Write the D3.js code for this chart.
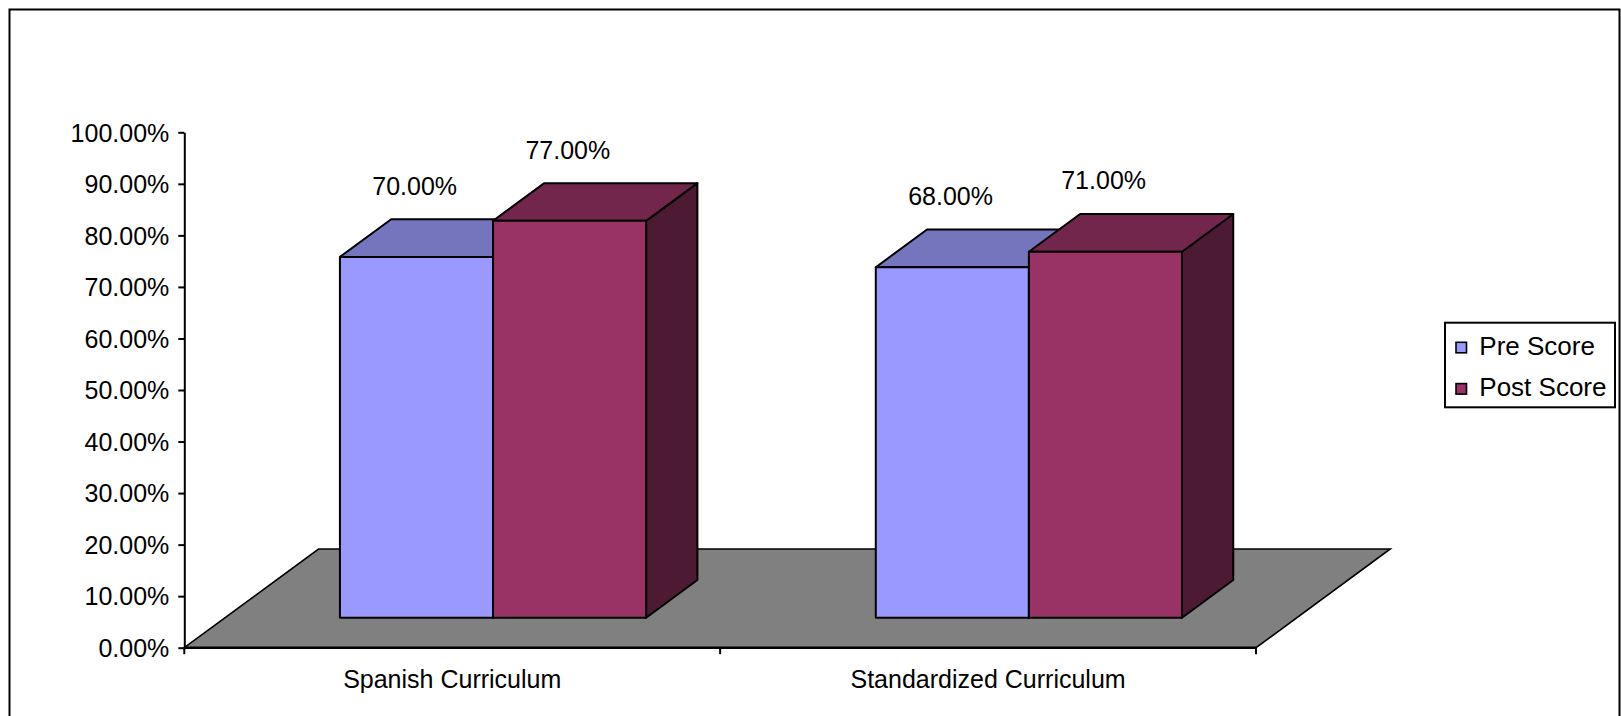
<!DOCTYPE html>
<html>
<head>
<meta charset="utf-8">
<script src="https://cdn.jsdelivr.net/npm/d3@7"></script>
<style>
  html, body { margin: 0; padding: 0; background: #ffffff; }
  svg { display: block; }
  text { font-family: "Liberation Sans", Arial, sans-serif; fill: #000; }
</style>
</head>
<body>
<svg id="chart" width="1621" height="716"></svg>
<script>
// Chart data
const categories = ["Spanish Curriculum", "Standardized Curriculum"];
const seriesNames = ["Pre Score", "Post Score"];
const preScore = [0.70, 0.68];
const postScore = [0.77, 0.71];
const yTickValues = [0, 0.1, 0.2, 0.3, 0.4, 0.5, 0.6, 0.7, 0.8, 0.9, 1.0];

// Colours per series: front, top, side faces
const seriesColors = {
  "Pre Score":  { front: "#9999FF", top: "#7575BE", side: "#4D4D80" },
  "Post Score": { front: "#993366", top: "#73264C", side: "#4C1A33" }
};

const svg = d3.select("#chart");
const W = 1621, H = 716;

// Plot frame (front plane)
const plotLeft = 184.3, plotRight = 1256, plotTop = 132.3, plotBottom = 647.7;

// Oblique depth projection: depth measured in px upward, shifted right by ratio
const depthRatio = 1.36;
const floorDepth = 98.7;
const barFront = 30, barBack = 67.7;
const proj = (x, y, z) => [x + z * depthRatio, y - z];

const y = d3.scaleLinear().domain([0, 1]).range([plotBottom, plotTop]);
const x0 = d3.scaleBand().domain(categories).range([plotLeft, plotRight]).paddingInner(0).paddingOuter(0);
const x1 = d3.scaleBand().domain(seriesNames).range([0, x0.bandwidth()]).paddingInner(0).paddingOuter(0.75);

// Outer chart border
svg.append("path")
  .attr("d", `M9.5,${H + 5} L9.5,9.5 L1619.5,9.5 L1619.5,${H + 5}`)
  .attr("fill", "none").attr("stroke", "#000").attr("stroke-width", 2);

// Floor
const fl = [
  proj(plotLeft, plotBottom, 0),
  proj(plotLeft, plotBottom, floorDepth),
  proj(plotRight, plotBottom, floorDepth),
  proj(plotRight, plotBottom, 0)
];
svg.append("polygon")
  .attr("points", fl.map(p => p.join(",")).join(" "))
  .attr("fill", "#808080").attr("stroke", "#000").attr("stroke-width", 1.6)
  .attr("stroke-linejoin", "miter");

// Build bar records
const bars = [];
categories.forEach((c, i) => {
  bars.push({ cat: c, series: "Pre Score", value: preScore[i] });
  bars.push({ cat: c, series: "Post Score", value: postScore[i] });
});

const poly = pts => pts.map(p => p.join(",")).join(" ");

const barG = svg.append("g");
bars.forEach(b => {
  const xl = x0(b.cat) + x1(b.series);
  const xr = xl + x1.bandwidth();
  const yt = y(b.value), yb = y(0);
  const col = seriesColors[b.series];
  const g = barG.append("g");
  // side face
  g.append("polygon")
    .attr("points", poly([proj(xr, yb, barFront), proj(xr, yb, barBack), proj(xr, yt, barBack), proj(xr, yt, barFront)]))
    .attr("fill", col.side).attr("stroke", "#000").attr("stroke-width", 2).attr("stroke-linejoin", "round");
  // top face
  g.append("polygon")
    .attr("points", poly([proj(xl, yt, barFront), proj(xl, yt, barBack), proj(xr, yt, barBack), proj(xr, yt, barFront)]))
    .attr("fill", col.top).attr("stroke", "#000").attr("stroke-width", 2).attr("stroke-linejoin", "round");
  // front face
  g.append("polygon")
    .attr("points", poly([proj(xl, yb, barFront), proj(xl, yt, barFront), proj(xr, yt, barFront), proj(xr, yb, barFront)]))
    .attr("fill", col.front).attr("stroke", "#000").attr("stroke-width", 2).attr("stroke-linejoin", "round");
});

// Value labels above each bar
const fmt = d3.format(".2%");
svg.append("g").selectAll("text")
  .data(bars)
  .join("text")
  .attr("x", b => x0(b.cat) + x1(b.series) + x1.bandwidth() / 2 + 39)
  .attr("y", b => y(b.value) - 92.3)
  .attr("text-anchor", "middle")
  .attr("font-size", 25)
  .text(b => fmt(b.value));

// Y axis
const yAxis = svg.append("g")
  .attr("transform", `translate(${plotLeft},0)`)
  .call(d3.axisLeft(y).tickValues(yTickValues).tickFormat(fmt).tickSize(6).tickSizeOuter(0).tickPadding(9));
yAxis.select(".domain").attr("stroke", "#000").attr("stroke-width", 2);
yAxis.selectAll(".tick line").attr("stroke", "#000").attr("stroke-width", 2);
yAxis.selectAll(".tick text")
  .attr("font-size", 25)
  .attr("font-family", "Liberation Sans, Arial, sans-serif")
  .attr("fill", "#000")
  .attr("dy", "0.35em");

// X axis line, boundary ticks and category labels
const xAxis = svg.append("g");
xAxis.append("line")
  .attr("x1", plotLeft).attr("x2", plotRight)
  .attr("y1", plotBottom).attr("y2", plotBottom)
  .attr("stroke", "#000").attr("stroke-width", 2.5);
const boundaries = categories.map(c => x0(c)).concat([x0.range()[1]]);
xAxis.selectAll("line.tick")
  .data(boundaries)
  .join("line")
  .attr("class", "tick")
  .attr("x1", d => d).attr("x2", d => d)
  .attr("y1", plotBottom).attr("y2", plotBottom + 6.5)
  .attr("stroke", "#000").attr("stroke-width", 2);
xAxis.selectAll("text")
  .data(categories)
  .join("text")
  .attr("x", c => x0(c) + x0.bandwidth() / 2)
  .attr("y", 687.5)
  .attr("text-anchor", "middle")
  .attr("font-size", 25)
  .text(c => c);

// Legend
const legend = svg.append("g");
legend.append("rect")
  .attr("x", 1445).attr("y", 322.7).attr("width", 170).attr("height", 84.6)
  .attr("fill", "#fff").attr("stroke", "#000").attr("stroke-width", 2);
const legendRows = legend.selectAll("g.row")
  .data(seriesNames)
  .join("g")
  .attr("class", "row")
  .attr("transform", (d, i) => `translate(1456, ${342.3 + i * 41.3})`);
legendRows.append("rect")
  .attr("width", 10.5).attr("height", 10.5)
  .attr("fill", d => seriesColors[d].front)
  .attr("stroke", "#000").attr("stroke-width", 1.6);
legendRows.append("text")
  .attr("x", 23.3).attr("y", 12.7)
  .attr("font-size", 26)
  .text(d => d);
</script>
</body>
</html>
